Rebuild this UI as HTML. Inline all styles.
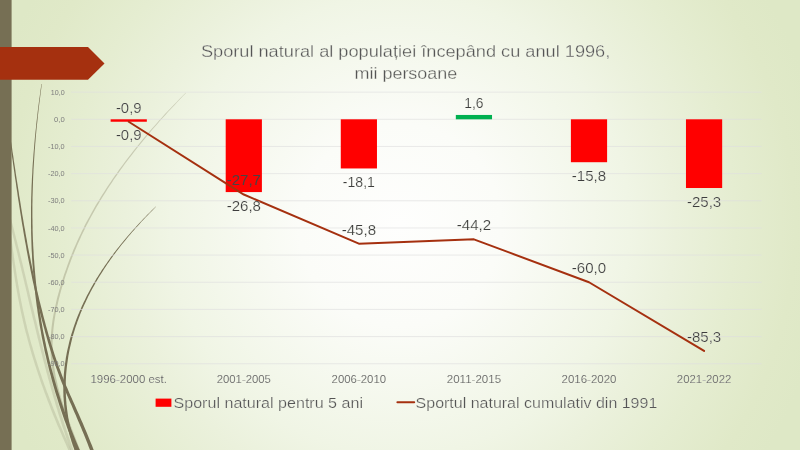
<!DOCTYPE html>
<html lang="ro">
<head>
<meta charset="utf-8">
<title>Sporul natural al populației</title>
<style>
html,body{margin:0;padding:0;width:800px;height:450px;overflow:hidden;background:#dee8c6;}
#slide{position:relative;width:800px;height:450px;overflow:hidden;
 background:radial-gradient(circle 459px at 50% 50%, #fefefd 0%, #fbfcf8 22%, #f0f5e5 50%, #ebf1dc 60%, #e5edd1 73%, #e0e9c8 86%, #dee8c6 94%, #dee8c6 100%);}
svg{position:absolute;left:0;top:0;font-family:"Liberation Sans",sans-serif;}
.grid{stroke:#dfdfdf;stroke-width:0.65;}
text{stroke:#f4f8ec;paint-order:normal;}
.ax{font-size:7.1px;fill:#7d7d7d;stroke:none;}
.dl{font-size:14.2px;fill:#3d3d3d;stroke-width:0.2px;}
.ns{stroke:none;fill:#484444;}
.cat{font-size:11.4px;fill:#606060;stroke-width:0.13px;}
.lg{font-size:15.3px;fill:#555555;stroke-width:0.24px;}
.ti{font-size:15.8px;fill:#555555;stroke-width:0.28px;}
</style>
</head>
<body>
<div id="slide">
<svg width="800" height="450" viewBox="0 0 800 450">
<!-- wisps -->
<path d="M7.2,225.2 L7.5,227.2 L7.7,229.1 L8.0,231.1 L8.3,233.1 L8.5,235.1 L8.8,237.1 L9.1,239.1 L9.3,241.1 L9.6,243.1 L9.9,245.1 L10.2,247.1 L10.4,249.1 L10.7,251.1 L11.0,253.0 L11.3,255.0 L11.5,257.0 L11.8,259.0 L12.1,261.0 L12.4,263.0 L12.7,265.0 L13.0,267.0 L13.3,269.0 L13.6,271.0 L13.9,273.0 L14.2,275.0 L14.5,277.0 L14.8,279.0 L15.1,281.0 L15.5,283.0 L15.8,285.0 L16.1,286.9 L16.5,288.9 L16.8,290.9 L17.2,292.9 L17.6,294.9 L17.9,296.9 L18.3,298.9 L18.7,300.9 L19.1,302.9 L19.5,304.9 L19.9,306.9 L20.3,308.9 L20.7,310.9 L21.1,312.9 L21.6,314.9 L22.0,316.9 L22.5,318.9 L22.9,320.9 L23.4,322.9 L23.9,324.9 L24.3,326.9 L24.8,328.9 L25.3,330.9 L25.8,332.9 L26.4,334.9 L26.9,336.8 L27.4,338.8 L27.9,340.8 L28.5,342.8 L29.0,344.8 L29.6,346.8 L30.2,348.8 L30.7,350.8 L31.3,352.8 L31.9,354.8 L32.5,356.8 L33.1,358.8 L33.8,360.8 L34.4,362.8 L35.0,364.8 L35.7,366.8 L36.3,368.8 L37.0,370.8 L37.6,372.8 L38.3,374.8 L39.0,376.8 L39.7,378.8 L40.3,380.8 L41.0,382.8 L41.7,384.8 L42.5,386.7 L43.2,388.7 L43.9,390.7 L44.6,392.7 L45.4,394.7 L46.1,396.7 L46.9,398.7 L47.6,400.7 L48.4,402.7 L49.2,404.7 L50.0,406.7 L50.7,408.7 L51.5,410.7 L52.3,412.7 L53.1,414.7 L53.9,416.7 L54.8,418.7 L55.6,420.7 L56.4,422.7 L57.2,424.7 L58.1,426.7 L58.9,428.6 L59.8,430.6 L60.6,432.6 L61.5,434.6 L62.3,436.6 L63.2,438.6 L64.1,440.6 L65.0,442.6 L65.9,444.6 L66.7,446.6 L67.6,448.6 L68.5,450.6 L69.4,452.6 L70.3,454.6 L71.2,456.6 L72.2,458.6 L73.1,460.6 L74.0,462.5 L76.4,461.5 L75.4,459.5 L74.5,457.5 L73.6,455.5 L72.7,453.5 L71.8,451.5 L70.9,449.5 L70.0,447.5 L69.1,445.5 L68.2,443.6 L67.3,441.6 L66.5,439.6 L65.6,437.6 L64.7,435.6 L63.8,433.6 L63.0,431.6 L62.1,429.6 L61.3,427.6 L60.4,425.7 L59.6,423.7 L58.8,421.7 L58.0,419.7 L57.1,417.7 L56.3,415.7 L55.5,413.7 L54.7,411.7 L53.9,409.7 L53.1,407.8 L52.3,405.8 L51.6,403.8 L50.8,401.8 L50.0,399.8 L49.3,397.8 L48.5,395.8 L47.8,393.8 L47.0,391.9 L46.3,389.9 L45.6,387.9 L44.8,385.9 L44.1,383.9 L43.4,381.9 L42.7,379.9 L42.0,377.9 L41.4,376.0 L40.7,374.0 L40.0,372.0 L39.3,370.0 L38.7,368.0 L38.0,366.0 L37.4,364.0 L36.8,362.0 L36.2,360.1 L35.5,358.1 L34.9,356.1 L34.3,354.1 L33.7,352.1 L33.1,350.1 L32.6,348.1 L32.0,346.1 L31.4,344.2 L30.9,342.2 L30.3,340.2 L29.8,338.2 L29.3,336.2 L28.8,334.2 L28.2,332.2 L27.7,330.3 L27.2,328.3 L26.8,326.3 L26.3,324.3 L25.8,322.3 L25.3,320.3 L24.9,318.3 L24.4,316.3 L24.0,314.4 L23.6,312.4 L23.1,310.4 L22.7,308.4 L22.3,306.4 L21.9,304.4 L21.5,302.4 L21.1,300.4 L20.7,298.5 L20.3,296.5 L20.0,294.5 L19.6,292.5 L19.3,290.5 L18.9,288.5 L18.6,286.5 L18.2,284.5 L17.9,282.6 L17.6,280.6 L17.2,278.6 L16.9,276.6 L16.6,274.6 L16.3,272.6 L16.0,270.6 L15.7,268.6 L15.4,266.6 L15.1,264.7 L14.8,262.7 L14.5,260.7 L14.2,258.7 L13.9,256.7 L13.7,254.7 L13.4,252.7 L13.1,250.7 L12.8,248.7 L12.6,246.7 L12.3,244.8 L12.0,242.8 L11.7,240.8 L11.5,238.8 L11.2,236.8 L10.9,234.8 L10.7,232.8 L10.4,230.8 L10.1,228.8 L9.8,226.8 L9.6,224.8Z" fill="#766f54" fill-opacity="0.18"/>
<path d="M6.8,212.3 L7.4,214.4 L7.9,216.5 L8.5,218.6 L9.0,220.7 L9.6,222.8 L10.1,224.9 L10.7,227.0 L11.2,229.0 L11.8,231.1 L12.3,233.2 L12.8,235.3 L13.3,237.4 L13.9,239.5 L14.4,241.6 L14.9,243.7 L15.4,245.8 L16.0,247.9 L16.5,250.0 L17.0,252.1 L17.5,254.1 L18.0,256.2 L18.5,258.3 L19.0,260.4 L19.5,262.5 L20.1,264.6 L20.6,266.7 L21.1,268.8 L21.6,270.9 L22.1,273.0 L22.6,275.1 L23.1,277.2 L23.6,279.2 L24.1,281.3 L24.6,283.4 L25.1,285.5 L25.6,287.6 L26.1,289.7 L26.6,291.8 L27.1,293.9 L27.5,296.0 L28.0,298.1 L28.5,300.2 L29.0,302.3 L29.5,304.4 L30.0,306.5 L30.5,308.5 L31.0,310.6 L31.5,312.7 L32.0,314.8 L32.5,316.9 L33.0,319.0 L33.6,321.1 L34.1,323.2 L34.6,325.3 L35.1,327.4 L35.6,329.5 L36.1,331.6 L36.6,333.7 L37.1,335.8 L37.6,337.9 L38.2,340.0 L38.7,342.0 L39.2,344.1 L39.7,346.2 L40.3,348.3 L40.8,350.4 L41.3,352.5 L41.9,354.6 L42.4,356.7 L42.9,358.8 L43.5,360.9 L44.0,363.0 L44.6,365.1 L45.1,367.2 L45.7,369.3 L46.2,371.4 L46.8,373.5 L47.4,375.6 L47.9,377.7 L48.5,379.7 L49.1,381.8 L49.7,383.9 L50.3,386.0 L50.8,388.1 L51.4,390.2 L52.0,392.3 L52.6,394.4 L53.2,396.5 L53.8,398.6 L54.5,400.7 L55.1,402.8 L55.7,404.9 L56.3,407.0 L57.0,409.1 L57.6,411.2 L58.2,413.3 L58.9,415.4 L59.5,417.5 L60.2,419.6 L60.9,421.7 L61.5,423.8 L62.2,425.9 L62.9,427.9 L63.6,430.0 L64.3,432.1 L65.0,434.2 L65.7,436.3 L66.4,438.4 L67.1,440.5 L67.8,442.6 L68.6,444.7 L69.3,446.8 L70.0,448.9 L70.8,451.0 L71.5,453.1 L72.3,455.2 L73.1,457.3 L73.9,459.4 L74.6,461.5 L77.3,460.5 L76.5,458.4 L75.7,456.3 L74.9,454.2 L74.2,452.2 L73.4,450.1 L72.7,448.0 L71.9,445.9 L71.2,443.8 L70.4,441.7 L69.7,439.6 L69.0,437.5 L68.3,435.4 L67.6,433.4 L66.9,431.3 L66.2,429.2 L65.5,427.1 L64.8,425.0 L64.1,422.9 L63.5,420.8 L62.8,418.7 L62.1,416.7 L61.5,414.6 L60.8,412.5 L60.2,410.4 L59.6,408.3 L58.9,406.2 L58.3,404.1 L57.7,402.0 L57.1,399.9 L56.4,397.8 L55.8,395.8 L55.2,393.7 L54.6,391.6 L54.0,389.5 L53.4,387.4 L52.8,385.3 L52.2,383.2 L51.7,381.1 L51.1,379.0 L50.5,377.0 L49.9,374.9 L49.4,372.8 L48.8,370.7 L48.2,368.6 L47.7,366.5 L47.1,364.4 L46.6,362.3 L46.0,360.2 L45.5,358.1 L44.9,356.0 L44.4,354.0 L43.9,351.9 L43.3,349.8 L42.8,347.7 L42.3,345.6 L41.7,343.5 L41.2,341.4 L40.7,339.3 L40.2,337.2 L39.6,335.1 L39.1,333.1 L38.6,331.0 L38.1,328.9 L37.6,326.8 L37.1,324.7 L36.6,322.6 L36.1,320.5 L35.5,318.4 L35.0,316.3 L34.5,314.2 L34.0,312.1 L33.5,310.0 L33.0,308.0 L32.5,305.9 L32.0,303.8 L31.5,301.7 L31.0,299.6 L30.5,297.5 L30.0,295.4 L29.5,293.3 L29.0,291.2 L28.5,289.1 L28.0,287.0 L27.5,284.9 L27.0,282.9 L26.5,280.8 L26.0,278.7 L25.5,276.6 L25.0,274.5 L24.5,272.4 L24.0,270.3 L23.5,268.2 L23.0,266.1 L22.5,264.0 L22.0,261.9 L21.4,259.8 L20.9,257.7 L20.4,255.6 L19.9,253.6 L19.4,251.5 L18.9,249.4 L18.3,247.3 L17.8,245.2 L17.3,243.1 L16.8,241.0 L16.2,238.9 L15.7,236.8 L15.2,234.7 L14.6,232.6 L14.1,230.5 L13.6,228.4 L13.0,226.3 L12.5,224.2 L11.9,222.2 L11.4,220.1 L10.8,218.0 L10.3,215.9 L9.7,213.8 L9.1,211.7Z" fill="#766f54" fill-opacity="0.18"/>
<path d="M185.8,92.7 L182.7,95.7 L179.7,98.8 L176.7,101.9 L173.7,104.9 L170.8,108.0 L167.9,111.1 L165.0,114.1 L162.2,117.2 L159.4,120.3 L156.6,123.4 L153.9,126.5 L151.2,129.5 L148.6,132.6 L145.9,135.7 L143.3,138.8 L140.8,141.8 L138.3,144.9 L135.8,148.0 L133.3,151.1 L130.9,154.2 L128.5,157.3 L126.2,160.3 L123.8,163.4 L121.6,166.5 L119.3,169.6 L117.1,172.7 L114.9,175.8 L112.8,178.8 L110.7,181.9 L108.6,185.0 L106.6,188.1 L104.6,191.2 L102.6,194.3 L100.7,197.3 L98.8,200.4 L96.9,203.5 L95.1,206.6 L93.3,209.7 L91.6,212.8 L89.9,215.9 L88.2,219.0 L86.5,222.0 L84.9,225.1 L83.4,228.2 L81.9,231.3 L80.4,234.4 L78.9,237.5 L77.5,240.6 L76.1,243.7 L74.8,246.8 L73.4,249.8 L72.2,252.9 L70.9,256.0 L69.7,259.1 L68.5,262.2 L67.4,265.3 L66.3,268.4 L65.2,271.5 L64.1,274.6 L63.1,277.7 L62.1,280.8 L61.1,283.8 L60.2,286.9 L59.3,290.0 L58.5,293.1 L57.6,296.2 L56.8,299.3 L56.1,302.4 L55.4,305.5 L54.7,308.6 L54.1,311.7 L53.5,314.8 L52.9,317.9 L52.4,321.0 L52.0,324.1 L51.6,327.2 L51.3,330.3 L51.0,333.4 L50.8,336.5 L50.6,339.6 L50.5,342.7 L50.5,345.8 L50.5,348.9 L50.6,352.0 L50.7,355.2 L51.0,358.3 L51.2,361.4 L51.6,364.5 L52.0,367.6 L52.4,370.7 L53.0,373.8 L53.5,376.9 L54.2,380.0 L54.8,383.1 L55.6,386.2 L56.3,389.3 L57.2,392.4 L58.0,395.5 L58.9,398.6 L59.9,401.7 L60.9,404.8 L61.9,407.9 L62.9,411.0 L64.0,414.1 L65.1,417.2 L66.2,420.3 L67.3,423.4 L68.4,426.5 L69.6,429.6 L70.8,432.7 L71.9,435.8 L73.1,438.8 L74.3,441.9 L75.5,445.0 L76.6,448.1 L77.8,451.2 L79.0,454.3 L80.1,457.4 L81.2,460.4 L83.7,459.6 L82.5,456.5 L81.4,453.4 L80.2,450.3 L79.0,447.2 L77.8,444.1 L76.7,441.0 L75.5,438.0 L74.3,434.9 L73.1,431.8 L71.9,428.7 L70.8,425.6 L69.6,422.5 L68.5,419.5 L67.3,416.4 L66.2,413.3 L65.2,410.2 L64.1,407.2 L63.1,404.1 L62.1,401.0 L61.2,397.9 L60.3,394.9 L59.4,391.8 L58.6,388.7 L57.8,385.7 L57.1,382.6 L56.4,379.5 L55.7,376.5 L55.2,373.4 L54.7,370.3 L54.2,367.3 L53.8,364.2 L53.4,361.1 L53.1,358.1 L52.9,355.0 L52.7,352.0 L52.6,348.9 L52.6,345.8 L52.6,342.8 L52.7,339.7 L52.9,336.6 L53.1,333.6 L53.3,330.5 L53.6,327.4 L54.0,324.4 L54.4,321.3 L54.9,318.2 L55.4,315.1 L56.0,312.1 L56.6,309.0 L57.3,305.9 L58.0,302.9 L58.7,299.8 L59.5,296.7 L60.3,293.6 L61.1,290.5 L62.0,287.5 L62.9,284.4 L63.9,281.3 L64.8,278.2 L65.8,275.1 L66.9,272.1 L67.9,269.0 L69.0,265.9 L70.2,262.8 L71.3,259.7 L72.5,256.7 L73.8,253.6 L75.0,250.5 L76.3,247.4 L77.6,244.3 L79.0,241.3 L80.4,238.2 L81.8,235.1 L83.3,232.0 L84.8,228.9 L86.3,225.8 L87.9,222.8 L89.5,219.7 L91.2,216.6 L92.9,213.5 L94.6,210.4 L96.4,207.3 L98.2,204.3 L100.0,201.2 L101.9,198.1 L103.8,195.0 L105.7,191.9 L107.7,188.8 L109.7,185.7 L111.8,182.7 L113.8,179.6 L116.0,176.5 L118.1,173.4 L120.3,170.3 L122.5,167.2 L124.8,164.1 L127.1,161.0 L129.4,157.9 L131.8,154.9 L134.2,151.8 L136.6,148.7 L139.1,145.6 L141.6,142.5 L144.1,139.4 L146.7,136.3 L149.3,133.2 L151.9,130.1 L154.6,127.0 L157.3,123.9 L160.0,120.8 L162.8,117.7 L165.6,114.7 L168.4,111.6 L171.3,108.5 L174.2,105.4 L177.1,102.3 L180.0,99.2 L183.0,96.1 L186.0,92.9Z" fill="#766f54" fill-opacity="0.3"/>
<path d="M41.4,84.0 L41.0,87.1 L40.5,90.3 L40.1,93.5 L39.7,96.6 L39.2,99.8 L38.8,103.0 L38.4,106.1 L38.0,109.3 L37.6,112.5 L37.3,115.6 L36.9,118.8 L36.5,122.0 L36.2,125.1 L35.9,128.3 L35.5,131.5 L35.2,134.7 L34.9,137.8 L34.6,141.0 L34.3,144.2 L34.1,147.3 L33.8,150.5 L33.5,153.7 L33.3,156.8 L33.1,160.0 L32.8,163.2 L32.6,166.3 L32.4,169.5 L32.3,172.7 L32.1,175.8 L31.9,179.0 L31.8,182.2 L31.6,185.4 L31.5,188.5 L31.4,191.7 L31.3,194.9 L31.2,198.0 L31.1,201.2 L31.1,204.4 L31.0,207.5 L31.0,210.7 L31.0,213.9 L31.0,217.1 L31.0,220.2 L31.0,223.4 L31.0,226.6 L31.1,229.7 L31.1,232.9 L31.2,236.1 L31.3,239.3 L31.4,242.4 L31.5,245.6 L31.6,248.8 L31.8,252.0 L32.0,255.1 L32.1,258.3 L32.3,261.5 L32.5,264.6 L32.8,267.8 L33.0,271.0 L33.3,274.2 L33.5,277.3 L33.8,280.5 L34.1,283.7 L34.5,286.9 L34.8,290.0 L35.2,293.2 L35.5,296.4 L35.9,299.6 L36.3,302.7 L36.7,305.9 L37.2,309.1 L37.6,312.3 L38.1,315.4 L38.6,318.6 L39.1,321.8 L39.6,325.0 L40.2,328.2 L40.8,331.3 L41.3,334.5 L41.9,337.7 L42.6,340.9 L43.2,344.0 L43.9,347.2 L44.5,350.4 L45.2,353.6 L46.0,356.7 L46.7,359.9 L47.4,363.1 L48.2,366.3 L49.0,369.5 L49.8,372.6 L50.7,375.8 L51.5,379.0 L52.4,382.2 L53.3,385.4 L54.2,388.5 L55.1,391.7 L56.1,394.9 L57.1,398.1 L58.1,401.3 L59.1,404.4 L60.1,407.6 L61.2,410.8 L62.3,414.0 L63.4,417.2 L64.5,420.4 L65.7,423.5 L66.8,426.7 L68.0,429.9 L69.2,433.1 L70.5,436.3 L71.7,439.4 L73.0,442.6 L74.3,445.8 L75.7,449.0 L77.0,452.2 L78.4,455.4 L79.8,458.5 L81.2,461.7 L84.4,460.3 L83.0,457.1 L81.5,454.0 L80.2,450.8 L78.8,447.7 L77.4,444.5 L76.1,441.4 L74.8,438.2 L73.5,435.0 L72.3,431.9 L71.0,428.7 L69.8,425.6 L68.6,422.4 L67.5,419.3 L66.3,416.1 L65.2,413.0 L64.1,409.8 L63.0,406.7 L61.9,403.5 L60.9,400.4 L59.9,397.2 L58.9,394.0 L57.9,390.9 L56.9,387.7 L56.0,384.6 L55.1,381.4 L54.2,378.3 L53.3,375.1 L52.5,371.9 L51.6,368.8 L50.8,365.6 L50.0,362.5 L49.2,359.3 L48.5,356.2 L47.8,353.0 L47.0,349.8 L46.3,346.7 L45.7,343.5 L45.0,340.4 L44.4,337.2 L43.7,334.1 L43.1,330.9 L42.5,327.7 L42.0,324.6 L41.4,321.4 L40.9,318.3 L40.4,315.1 L39.9,311.9 L39.4,308.8 L38.9,305.6 L38.5,302.5 L38.0,299.3 L37.6,296.1 L37.2,293.0 L36.8,289.8 L36.5,286.6 L36.1,283.5 L35.8,280.3 L35.5,277.2 L35.2,274.0 L34.9,270.8 L34.7,267.7 L34.4,264.5 L34.2,261.3 L33.9,258.2 L33.7,255.0 L33.6,251.9 L33.4,248.7 L33.2,245.5 L33.1,242.4 L32.9,239.2 L32.8,236.0 L32.7,232.9 L32.6,229.7 L32.6,226.6 L32.5,223.4 L32.5,220.2 L32.4,217.1 L32.4,213.9 L32.4,210.7 L32.4,207.6 L32.4,204.4 L32.5,201.2 L32.5,198.1 L32.6,194.9 L32.7,191.7 L32.8,188.6 L32.9,185.4 L33.0,182.2 L33.1,179.1 L33.2,175.9 L33.4,172.7 L33.5,169.6 L33.7,166.4 L33.9,163.2 L34.1,160.1 L34.3,156.9 L34.5,153.7 L34.7,150.6 L35.0,147.4 L35.2,144.2 L35.5,141.1 L35.7,137.9 L36.0,134.7 L36.3,131.6 L36.6,128.4 L36.9,125.2 L37.3,122.1 L37.6,118.9 L37.9,115.7 L38.3,112.5 L38.6,109.4 L39.0,106.2 L39.4,103.0 L39.8,99.9 L40.2,96.7 L40.6,93.5 L41.0,90.4 L41.4,87.2 L41.8,84.0Z" fill="#766f54" fill-opacity="1"/>
<path d="M1.9,85.1 L2.3,88.2 L2.8,91.4 L3.3,94.6 L3.8,97.7 L4.2,100.9 L4.7,104.1 L5.1,107.2 L5.6,110.4 L6.0,113.6 L6.5,116.7 L6.9,119.9 L7.4,123.1 L7.8,126.3 L8.3,129.4 L8.7,132.6 L9.1,135.8 L9.6,138.9 L10.0,142.1 L10.5,145.3 L10.9,148.4 L11.4,151.6 L11.8,154.8 L12.2,158.0 L12.7,161.1 L13.1,164.3 L13.6,167.5 L14.0,170.6 L14.5,173.8 L14.9,177.0 L15.4,180.1 L15.9,183.3 L16.3,186.5 L16.8,189.7 L17.3,192.8 L17.7,196.0 L18.2,199.2 L18.7,202.3 L19.2,205.5 L19.7,208.7 L20.2,211.9 L20.7,215.0 L21.2,218.2 L21.7,221.4 L22.2,224.5 L22.8,227.7 L23.3,230.9 L23.8,234.1 L24.4,237.2 L24.9,240.4 L25.5,243.6 L26.1,246.7 L26.6,249.9 L27.2,253.1 L27.8,256.3 L28.4,259.4 L29.0,262.6 L29.7,265.8 L30.3,269.0 L30.9,272.1 L31.6,275.3 L32.2,278.5 L32.9,281.7 L33.6,284.8 L34.3,288.0 L35.0,291.2 L35.7,294.3 L36.4,297.5 L37.2,300.7 L37.9,303.9 L38.7,307.0 L39.4,310.2 L40.2,313.4 L41.0,316.6 L41.8,319.7 L42.7,322.9 L43.5,326.1 L44.4,329.3 L45.2,332.5 L46.1,335.6 L47.0,338.8 L47.9,342.0 L48.9,345.2 L49.8,348.3 L50.8,351.5 L51.8,354.7 L52.8,357.9 L53.9,361.1 L55.0,364.3 L56.1,367.4 L57.2,370.6 L58.4,373.8 L59.6,377.0 L60.8,380.2 L62.1,383.4 L63.4,386.5 L64.7,389.7 L66.1,392.9 L67.4,396.1 L68.8,399.3 L70.2,402.4 L71.6,405.6 L72.9,408.8 L74.3,411.9 L75.7,415.1 L77.0,418.3 L78.4,421.5 L79.7,424.6 L81.1,427.8 L82.4,431.0 L83.7,434.1 L85.0,437.3 L86.3,440.5 L87.5,443.6 L88.7,446.8 L90.0,450.0 L91.2,453.1 L92.3,456.3 L93.5,459.4 L94.6,462.6 L98.0,461.4 L96.8,458.2 L95.7,455.0 L94.5,451.9 L93.2,448.7 L92.0,445.5 L90.7,442.4 L89.4,439.2 L88.1,436.0 L86.8,432.8 L85.5,429.7 L84.1,426.5 L82.8,423.3 L81.4,420.2 L80.0,417.0 L78.6,413.8 L77.2,410.7 L75.8,407.5 L74.4,404.3 L73.0,401.2 L71.6,398.0 L70.2,394.9 L68.8,391.7 L67.5,388.5 L66.1,385.4 L64.8,382.2 L63.5,379.1 L62.3,375.9 L61.1,372.8 L59.9,369.6 L58.7,366.5 L57.6,363.3 L56.5,360.2 L55.4,357.0 L54.4,353.9 L53.4,350.7 L52.4,347.6 L51.4,344.4 L50.5,341.2 L49.5,338.1 L48.6,334.9 L47.7,331.8 L46.8,328.6 L45.9,325.4 L45.1,322.3 L44.2,319.1 L43.4,316.0 L42.6,312.8 L41.8,309.6 L41.0,306.5 L40.2,303.3 L39.4,300.2 L38.7,297.0 L37.9,293.8 L37.2,290.7 L36.4,287.5 L35.7,284.4 L35.0,281.2 L34.3,278.0 L33.7,274.9 L33.0,271.7 L32.3,268.5 L31.7,265.4 L31.0,262.2 L30.4,259.1 L29.8,255.9 L29.1,252.7 L28.5,249.6 L27.9,246.4 L27.3,243.2 L26.8,240.1 L26.2,236.9 L25.6,233.7 L25.1,230.6 L24.5,227.4 L23.9,224.2 L23.4,221.1 L22.9,217.9 L22.3,214.8 L21.8,211.6 L21.3,208.4 L20.8,205.3 L20.3,202.1 L19.8,198.9 L19.2,195.8 L18.8,192.6 L18.3,189.4 L17.8,186.3 L17.3,183.1 L16.8,179.9 L16.3,176.8 L15.8,173.6 L15.4,170.4 L14.9,167.3 L14.4,164.1 L13.9,160.9 L13.5,157.8 L13.0,154.6 L12.5,151.4 L12.1,148.3 L11.6,145.1 L11.1,141.9 L10.7,138.8 L10.2,135.6 L9.7,132.4 L9.3,129.3 L8.8,126.1 L8.3,122.9 L7.9,119.8 L7.4,116.6 L6.9,113.4 L6.5,110.3 L6.0,107.1 L5.5,103.9 L5.0,100.8 L4.5,97.6 L4.0,94.4 L3.6,91.3 L3.1,88.1 L2.6,84.9Z" fill="#766f54" fill-opacity="1"/>
<path d="M155.9,206.4 L153.7,208.5 L151.6,210.6 L149.5,212.7 L147.3,214.8 L145.3,217.0 L143.2,219.1 L141.2,221.2 L139.2,223.3 L137.2,225.4 L135.3,227.6 L133.3,229.7 L131.5,231.8 L129.6,233.9 L127.8,236.1 L125.9,238.2 L124.2,240.3 L122.4,242.4 L120.7,244.6 L119.0,246.7 L117.3,248.8 L115.6,250.9 L114.0,253.1 L112.4,255.2 L110.8,257.3 L109.3,259.4 L107.8,261.6 L106.3,263.7 L104.8,265.8 L103.4,267.9 L101.9,270.1 L100.6,272.2 L99.2,274.3 L97.9,276.5 L96.5,278.6 L95.3,280.7 L94.0,282.8 L92.8,285.0 L91.6,287.1 L90.4,289.2 L89.2,291.4 L88.1,293.5 L87.0,295.6 L85.9,297.8 L84.9,299.9 L83.8,302.0 L82.8,304.2 L81.8,306.3 L80.9,308.4 L80.0,310.6 L79.1,312.7 L78.2,314.8 L77.3,317.0 L76.5,319.1 L75.7,321.2 L74.9,323.4 L74.2,325.5 L73.5,327.6 L72.8,329.8 L72.1,331.9 L71.4,334.0 L70.8,336.2 L70.2,338.3 L69.6,340.5 L69.1,342.6 L68.6,344.7 L68.1,346.9 L67.6,349.0 L67.1,351.2 L66.7,353.3 L66.3,355.4 L65.9,357.6 L65.6,359.7 L65.3,361.9 L65.0,364.0 L64.7,366.1 L64.4,368.3 L64.2,370.4 L64.0,372.6 L63.8,374.7 L63.7,376.8 L63.5,379.0 L63.4,381.1 L63.4,383.3 L63.3,385.4 L63.3,387.6 L63.3,389.7 L63.3,391.9 L63.4,394.0 L63.4,396.2 L63.6,398.3 L63.7,400.4 L63.9,402.6 L64.1,404.7 L64.3,406.9 L64.5,409.0 L64.8,411.2 L65.1,413.3 L65.4,415.5 L65.8,417.6 L66.1,419.7 L66.5,421.9 L67.0,424.0 L67.4,426.2 L67.9,428.3 L68.4,430.5 L69.0,432.6 L69.5,434.8 L70.1,436.9 L70.8,439.1 L71.4,441.2 L72.1,443.3 L72.8,445.5 L73.6,447.6 L74.3,449.8 L75.1,451.9 L75.9,454.1 L76.8,456.2 L77.7,458.4 L78.6,460.5 L80.9,459.5 L80.0,457.4 L79.1,455.3 L78.3,453.2 L77.5,451.0 L76.7,448.9 L75.9,446.8 L75.2,444.7 L74.5,442.6 L73.8,440.5 L73.2,438.3 L72.5,436.2 L72.0,434.1 L71.4,432.0 L70.9,429.9 L70.4,427.8 L69.9,425.6 L69.4,423.5 L69.0,421.4 L68.6,419.3 L68.2,417.2 L67.9,415.1 L67.6,413.0 L67.3,410.8 L67.0,408.7 L66.8,406.6 L66.5,404.5 L66.4,402.4 L66.2,400.3 L66.1,398.1 L65.9,396.0 L65.9,393.9 L65.8,391.8 L65.8,389.7 L65.7,387.6 L65.7,385.5 L65.8,383.3 L65.8,381.2 L65.9,379.1 L66.0,377.0 L66.1,374.9 L66.3,372.8 L66.5,370.6 L66.7,368.5 L66.9,366.4 L67.2,364.3 L67.5,362.2 L67.8,360.0 L68.1,357.9 L68.4,355.8 L68.8,353.7 L69.2,351.6 L69.6,349.4 L70.1,347.3 L70.6,345.2 L71.1,343.1 L71.6,341.0 L72.1,338.8 L72.7,336.7 L73.3,334.6 L73.9,332.5 L74.6,330.3 L75.2,328.2 L75.9,326.1 L76.7,324.0 L77.4,321.8 L78.2,319.7 L79.0,317.6 L79.8,315.5 L80.6,313.3 L81.5,311.2 L82.4,309.1 L83.3,307.0 L84.3,304.8 L85.3,302.7 L86.3,300.6 L87.3,298.4 L88.3,296.3 L89.4,294.2 L90.5,292.1 L91.6,289.9 L92.8,287.8 L94.0,285.7 L95.2,283.5 L96.4,281.4 L97.7,279.3 L99.0,277.1 L100.3,275.0 L101.6,272.9 L103.0,270.7 L104.4,268.6 L105.8,266.5 L107.2,264.3 L108.7,262.2 L110.2,260.1 L111.7,257.9 L113.3,255.8 L114.8,253.7 L116.4,251.5 L118.0,249.4 L119.7,247.3 L121.4,245.1 L123.1,243.0 L124.8,240.9 L126.6,238.7 L128.4,236.6 L130.2,234.4 L132.0,232.3 L133.9,230.2 L135.8,228.0 L137.7,225.9 L139.7,223.8 L141.6,221.6 L143.6,219.5 L145.7,217.3 L147.7,215.2 L149.8,213.1 L151.9,210.9 L154.0,208.8 L156.2,206.6Z" fill="#766f54" fill-opacity="1"/>
<!-- left bar + arrow -->
<rect x="0" y="0" width="11.6" height="450" fill="#766f54"/>
<polygon points="0,47 88,47 104.5,63.4 88,79.8 0,79.8" fill="#a5300f"/>
<!-- chart -->
<line x1="71.2" y1="92.14" x2="761.6" y2="92.14" class="grid"/>
<line x1="71.2" y1="119.30" x2="761.6" y2="119.30" class="grid"/>
<line x1="71.2" y1="146.46" x2="761.6" y2="146.46" class="grid"/>
<line x1="71.2" y1="173.62" x2="761.6" y2="173.62" class="grid"/>
<line x1="71.2" y1="200.78" x2="761.6" y2="200.78" class="grid"/>
<line x1="71.2" y1="227.94" x2="761.6" y2="227.94" class="grid"/>
<line x1="71.2" y1="255.10" x2="761.6" y2="255.10" class="grid"/>
<line x1="71.2" y1="282.26" x2="761.6" y2="282.26" class="grid"/>
<line x1="71.2" y1="309.42" x2="761.6" y2="309.42" class="grid"/>
<line x1="71.2" y1="336.58" x2="761.6" y2="336.58" class="grid"/>
<line x1="71.2" y1="363.74" x2="761.6" y2="363.74" class="grid"/>
<text x="64.7" y="94.84" class="ax" text-anchor="end" textLength="13.9" lengthAdjust="spacingAndGlyphs">10,0</text>
<text x="64.7" y="122.00" class="ax" text-anchor="end" textLength="10.7" lengthAdjust="spacingAndGlyphs">0,0</text>
<text x="64.7" y="149.16" class="ax" text-anchor="end" textLength="16.7" lengthAdjust="spacingAndGlyphs">-10,0</text>
<text x="64.7" y="176.32" class="ax" text-anchor="end" textLength="16.7" lengthAdjust="spacingAndGlyphs">-20,0</text>
<text x="64.7" y="203.48" class="ax" text-anchor="end" textLength="16.7" lengthAdjust="spacingAndGlyphs">-30,0</text>
<text x="64.7" y="230.64" class="ax" text-anchor="end" textLength="16.7" lengthAdjust="spacingAndGlyphs">-40,0</text>
<text x="64.7" y="257.80" class="ax" text-anchor="end" textLength="16.7" lengthAdjust="spacingAndGlyphs">-50,0</text>
<text x="64.7" y="284.96" class="ax" text-anchor="end" textLength="16.7" lengthAdjust="spacingAndGlyphs">-60,0</text>
<text x="64.7" y="312.12" class="ax" text-anchor="end" textLength="16.7" lengthAdjust="spacingAndGlyphs">-70,0</text>
<text x="64.7" y="339.28" class="ax" text-anchor="end" textLength="16.7" lengthAdjust="spacingAndGlyphs">-80,0</text>
<text x="64.7" y="366.44" class="ax" text-anchor="end" textLength="16.7" lengthAdjust="spacingAndGlyphs">-90,0</text>
<rect x="110.63" y="119.30" width="36.2" height="2.44" fill="#ff0000"/>
<rect x="225.70" y="119.30" width="36.2" height="72.79" fill="#ff0000"/>
<rect x="340.77" y="119.30" width="36.2" height="49.16" fill="#ff0000"/>
<rect x="455.83" y="114.95" width="36.2" height="4.35" fill="#00b050"/>
<rect x="570.90" y="119.30" width="36.2" height="42.91" fill="#ff0000"/>
<rect x="685.97" y="119.30" width="36.2" height="68.71" fill="#ff0000"/>
<polyline points="128.73,121.74 243.80,194.53 358.87,243.69 473.93,239.35 589.00,282.26 704.07,350.97" fill="none" stroke="#a5300f" stroke-width="2" stroke-linejoin="round" stroke-linecap="round"/>
<text x="128.73" y="140.44" class="dl" text-anchor="middle" textLength="25.6" lengthAdjust="spacingAndGlyphs">-0,9</text>
<text x="243.80" y="210.79" class="dl" text-anchor="middle" textLength="34.3" lengthAdjust="spacingAndGlyphs">-26,8</text>
<text x="358.87" y="187.16" class="dl" text-anchor="middle" textLength="32.0" lengthAdjust="spacingAndGlyphs">-18,1</text>
<text x="473.93" y="107.95" class="dl" text-anchor="middle" textLength="19.3" lengthAdjust="spacingAndGlyphs">1,6</text>
<text x="589.00" y="180.91" class="dl" text-anchor="middle" textLength="34.3" lengthAdjust="spacingAndGlyphs">-15,8</text>
<text x="704.07" y="206.71" class="dl" text-anchor="middle" textLength="34.3" lengthAdjust="spacingAndGlyphs">-25,3</text>
<text x="128.73" y="112.64" class="dl" text-anchor="middle" textLength="25.6" lengthAdjust="spacingAndGlyphs">-0,9</text>
<text x="243.80" y="185.43" class="dl ns" text-anchor="middle" textLength="34.3" lengthAdjust="spacingAndGlyphs">-27,7</text>
<text x="358.87" y="234.59" class="dl" text-anchor="middle" textLength="34.3" lengthAdjust="spacingAndGlyphs">-45,8</text>
<text x="473.93" y="230.25" class="dl" text-anchor="middle" textLength="34.3" lengthAdjust="spacingAndGlyphs">-44,2</text>
<text x="589.00" y="273.16" class="dl" text-anchor="middle" textLength="34.3" lengthAdjust="spacingAndGlyphs">-60,0</text>
<text x="704.07" y="341.87" class="dl" text-anchor="middle" textLength="34.3" lengthAdjust="spacingAndGlyphs">-85,3</text>
<text x="128.73" y="383.4" class="cat" text-anchor="middle" textLength="76.5" lengthAdjust="spacingAndGlyphs">1996-2000 est.</text>
<text x="243.80" y="383.4" class="cat" text-anchor="middle" textLength="54.3" lengthAdjust="spacingAndGlyphs">2001-2005</text>
<text x="358.87" y="383.4" class="cat" text-anchor="middle" textLength="54.5" lengthAdjust="spacingAndGlyphs">2006-2010</text>
<text x="473.93" y="383.4" class="cat" text-anchor="middle" textLength="54.3" lengthAdjust="spacingAndGlyphs">2011-2015</text>
<text x="589.00" y="383.4" class="cat" text-anchor="middle" textLength="55" lengthAdjust="spacingAndGlyphs">2016-2020</text>
<text x="704.07" y="383.4" class="cat" text-anchor="middle" textLength="54.5" lengthAdjust="spacingAndGlyphs">2021-2022</text>
<rect x="155.6" y="398.6" width="15.8" height="8.2" fill="#ff0000"/>
<text x="173.5" y="407.6" class="lg" textLength="189.5" lengthAdjust="spacingAndGlyphs">Sporul natural pentru 5 ani</text>
<line x1="397.4" y1="402.2" x2="414.2" y2="402.2" stroke="#a5300f" stroke-width="2" stroke-linecap="round"/>
<text x="415.6" y="407.6" class="lg" textLength="241.7" lengthAdjust="spacingAndGlyphs">Sportul natural cumulativ din 1991</text>
<text x="405.6" y="57" class="ti" text-anchor="middle" textLength="409.4" lengthAdjust="spacingAndGlyphs">Sporul natural al populației începând cu anul 1996,</text>
<text x="405.9" y="78.5" class="ti" text-anchor="middle" textLength="102.8" lengthAdjust="spacingAndGlyphs">mii persoane</text>
</svg>
</div>
</body>
</html>
